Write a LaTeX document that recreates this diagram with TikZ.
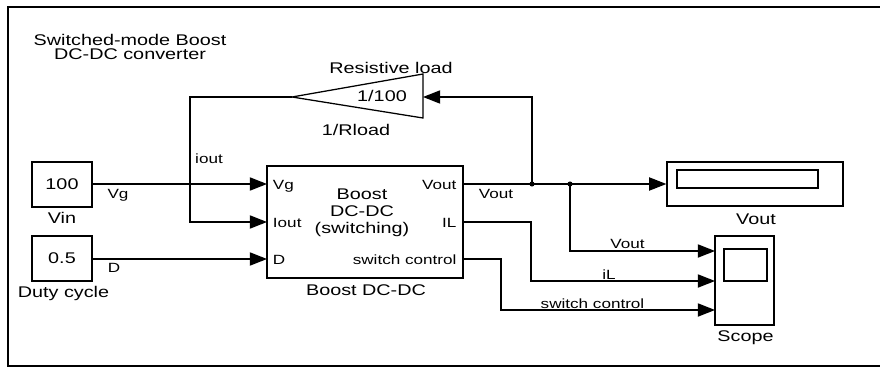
\documentclass[tikz,border=0pt]{standalone}
\usepackage{fontspec}
\setmainfont{Liberation Sans}[FakeStretch=1.28]
\usepackage{tikz}
\usetikzlibrary{arrows.meta}
\newcommand{\bigtxt}{\fontsize{11}{12}\selectfont}
\newcommand{\smalltxt}{\fontsize{9.5}{11}\selectfont}

\begin{document}
\begin{tikzpicture}[x=0.025cm,y=-0.025cm,
  blk/.style={draw,line width=0.9pt,inner sep=0pt,font=\bigtxt},
  lbl/.style={inner sep=0pt,font=\bigtxt,text height=7.9pt,text depth=0pt},
  plbl/.style={inner sep=0pt,font=\smalltxt,text height=6.8pt,text depth=0pt},
  wire/.style={line width=0.9pt},
  sig/.style={wire,-{Triangle[length=0.43cm,width=0.33cm]}}]
\useasboundingbox (0,0) rectangle (880,367);
\draw[line width=1.6pt] (890,7) -- (7.7,7) -- (7.7,366) -- (890,366);
\node[align=center,font=\fontsize{11}{10.3}\selectfont] (title) at (130,47) {Switched-mode Boost\\DC-DC converter};
\node[blk,minimum width=1.5cm,minimum height=1.125cm] (vin) at (62,184.5) {100};
\node[lbl] (vinlbl) at (62,217.5) {Vin};
\node[blk,minimum width=1.5cm,minimum height=1.125cm] (duty) at (62,258.5) {0.5};
\node[lbl] (dutylbl) at (63.5,291.5) {Duty cycle};
\node[blk,minimum width=4.9cm,minimum height=2.8cm] (boost) at (365,222) {};
\node[align=center,font=\fontsize{11}{12}\selectfont] (boosttxt) at (362,213) {Boost\\DC-DC\\(switching)};
\node[lbl] (boostlbl) at (366,290) {Boost DC-DC};
\coordinate (pvg) at (267,184);
\coordinate (piout) at (267,222);
\coordinate (pd) at (267,259);
\coordinate (pvout) at (463,184);
\coordinate (pil) at (463,222);
\coordinate (psw) at (463,259);
\node[plbl,anchor=west] (tvg) at (272.7,184.5) {Vg};
\node[plbl,anchor=west] (tiout) at (272.7,222.5) {Iout};
\node[plbl,anchor=west] (td) at (272.7,259.5) {D};
\node[plbl,anchor=east] (tvout) at (456.7,184.5) {Vout};
\node[plbl,anchor=east] (til) at (456.7,222.5) {IL};
\node[plbl,anchor=east] (tsw) at (456.7,259.5) {switch control};
\coordinate (gaintip) at (292,97);
\coordinate (gainin) at (423,97);
\draw[wire] (gaintip) -- (423,74) -- (423,118) -- cycle;
\node[lbl] (gainval) at (382,96) {1/100};
\node[lbl] (gaintop) at (391,68) {Resistive load};
\node[lbl] (gainlbl) at (356,130) {1/Rload};
\node[blk,minimum width=4.4cm,minimum height=1.1cm] (disp) at (755,184) {};
\node[blk,minimum width=3.525cm,minimum height=0.45cm] (dispwin) at (747.5,179) {};
\node[lbl] (displbl) at (756,218.5) {Vout};
\node[blk,minimum width=1.475cm,minimum height=2.225cm] (scope) at (744.5,280.5) {};
\node[blk,minimum width=1.075cm,minimum height=0.8cm] (scopewin) at (745.5,265) {};
\node[lbl] (scopelbl) at (745.5,336) {Scope};
\coordinate (sc1) at (715,251);
\coordinate (sc2) at (715,281);
\coordinate (sc3) at (715,310);
\coordinate (j1) at (532,184);
\coordinate (j2) at (570,184);
\coordinate (fbx) at (190,97);
\coordinate (ilx) at (531,281);
\coordinate (swx) at (501,310);
\draw[sig] (vin.east |- pvg) -- (pvg);
\draw[sig] (duty.east |- pd) -- (pd);
\draw[sig] (gaintip) -- (fbx) |- (piout);
\draw[sig] (pvout) -- (disp.west);
\draw[sig] (j1) |- (gainin);
\draw[sig] (j2) |- (sc1);
\draw[sig] (pil) -| (ilx) -- (sc2);
\draw[sig] (psw) -| (swx) -- (sc3);
\fill (j1) circle[radius=1.8pt];
\fill (j2) circle[radius=1.8pt];
\node[plbl] (lvg) at (118,193.5) {Vg};
\node[plbl] (ld) at (114,267.5) {D};
\node[plbl] (liout) at (209,159) {iout};
\node[plbl] (lvout) at (496,194) {Vout};
\node[plbl] (lvout2) at (627.5,244) {Vout};
\node[plbl] (lil) at (609,274.5) {iL};
\node[plbl] (lsw) at (592.5,303.5) {switch control};
\end{tikzpicture}
\end{document}
